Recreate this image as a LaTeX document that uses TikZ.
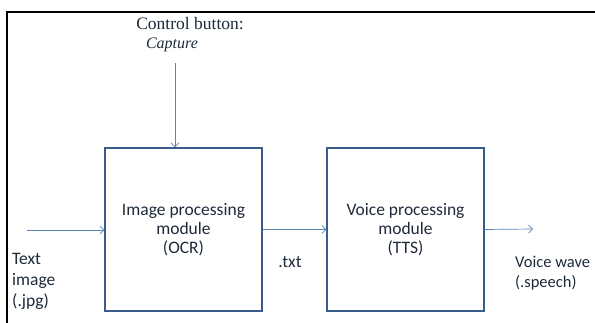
\documentclass[tikz,border=0pt]{standalone}
\usepackage{fontspec}
\setmainfont{Carlito}
\newfontfamily\serifface{Liberation Serif}
\usetikzlibrary{arrows.meta,positioning,calc}
\definecolor{boxline}{HTML}{385D8A}
\definecolor{arrline}{HTML}{5B84B5}
\definecolor{txt}{HTML}{1E2A3A}

\begin{document}
\begin{tikzpicture}[
  x=1pt, y=-1pt,
  >={Straight Barb[length=4pt,width=8pt]},
  module/.style={draw=boxline, line width=1.4pt, minimum width=157pt, minimum height=163pt, align=center, font=\fontsize{17.5}{19}\selectfont, text=txt, inner sep=0pt},
  lbl/.style={align=left, font=\fontsize{17.5}{21}\selectfont, text=txt, inner sep=0pt},
  arr/.style={->, line width=0.7pt, color=arrline},
]
\useasboundingbox (0,0) rectangle (595,323);

% frame of the screenshot
\draw[line width=1.6pt] (7,323) -- (7,12) -- (595,12);

\node[module] (ocr) at (183.5,229.5) {Image processing\\module\\(OCR)};
\node[module] (tts) at (405.5,229.5) {Voice processing\\module\\(TTS)};

\node[font=\serifface\fontsize{17.5}{20}\selectfont, text=txt, inner sep=0pt] (ctrl) at (190,24) {Control button:};
\node[font=\serifface\itshape\fontsize{16}{18}\selectfont, text=txt, inner sep=0pt] (capture) at (172,45) {Capture};

\node[lbl, anchor=north west] (textimg) at (12,253) {Text\\image\\(.jpg)};
\node[lbl] (txtfile) at (290,262) {.txt};
\node[lbl, anchor=north west, font=\fontsize{16.5}{20}\selectfont] (wave) at (515,256) {Voice wave\\(.speech)};

\coordinate (ctrlend) at (175,63);
\coordinate (instart) at (27,230);
\coordinate (outend) at (533,229);

\draw[arr] (ctrlend) -- (ctrlend |- ocr.north);
\draw[arr] (instart) -- (instart -| ocr.west);
\draw[arr] (ocr.east) -- (tts.west);
\draw[arr] (tts.east) -- (outend);

\end{tikzpicture}
\end{document}
